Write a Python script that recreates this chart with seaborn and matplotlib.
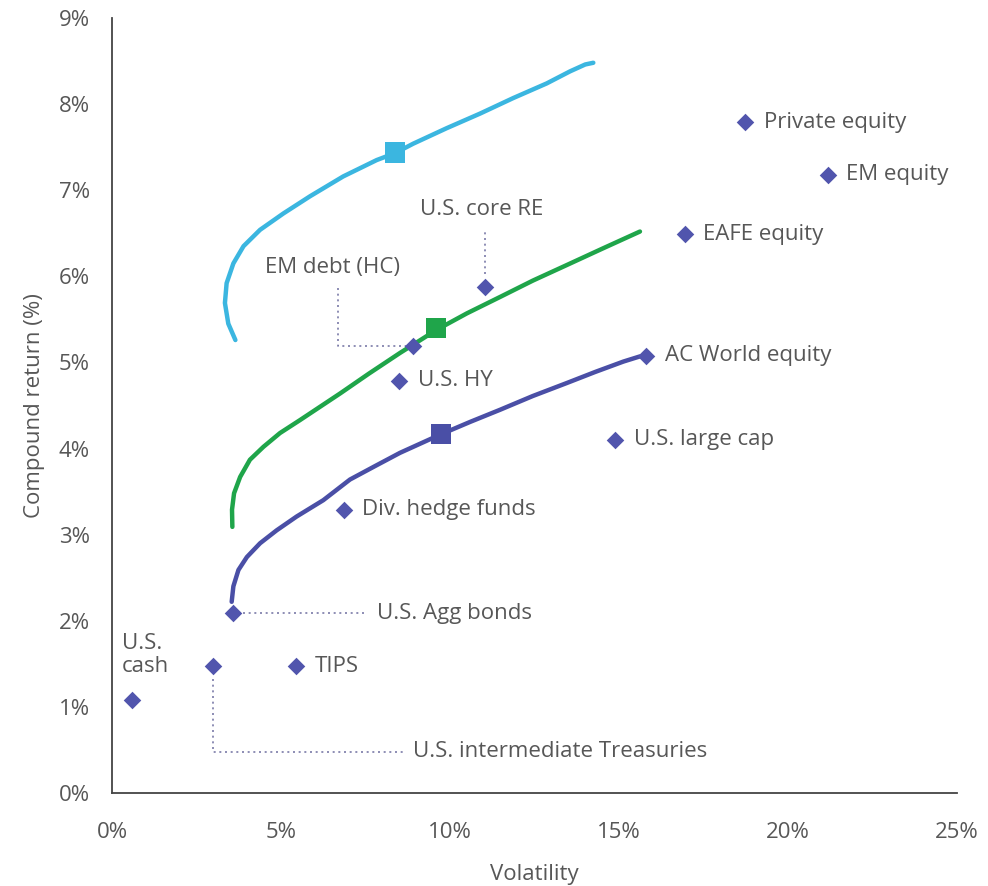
import pandas as pd
import matplotlib.pyplot as plt
import seaborn as sns

sns.set_style("white")
plt.rcParams['font.family'] = ['Open Sans', 'DejaVu Sans']

# asset classes (volatility %, compound return %)
assets = ['Private equity', 'EM equity', 'EAFE equity', 'U.S. core RE', 'EM debt (HC)',
          'U.S. HY', 'AC World equity', 'U.S. large cap', 'Div. hedge funds',
          'U.S. Agg bonds', 'TIPS', 'U.S. intermediate Treasuries', 'U.S. cash']
asset_vol = [18.73, 21.18, 16.95, 11.04, 8.90, 8.49, 15.80, 14.88, 6.86, 3.58, 5.44, 2.99, 0.59]
asset_ret = [7.79, 7.18, 6.49, 5.88, 5.19, 4.79, 5.08, 4.10, 3.29, 2.09, 1.47, 1.47, 1.08]

# frontier curves
cyan_vol = [3.65, 3.44, 3.34, 3.39, 3.59, 3.89, 4.38, 5.07, 5.86, 6.84, 7.83, 8.37,
            8.91, 9.90, 10.89, 11.87, 12.86, 13.55, 14.00, 14.24]
cyan_ret = [5.26, 5.45, 5.69, 5.92, 6.15, 6.35, 6.54, 6.73, 6.93, 7.16, 7.35, 7.43,
            7.54, 7.72, 7.89, 8.07, 8.24, 8.38, 8.46, 8.48]
green_vol = [3.56, 3.55, 3.61, 3.79, 4.08, 4.48, 4.97, 5.56, 6.75, 7.60, 8.52, 9.61,
             10.50, 11.48, 12.45, 13.45, 14.50, 15.62]
green_ret = [3.09, 3.29, 3.48, 3.67, 3.87, 4.02, 4.18, 4.33, 4.64, 4.87, 5.11, 5.38,
             5.57, 5.76, 5.95, 6.13, 6.32, 6.52]
blue_vol = [3.54, 3.59, 3.74, 3.99, 4.38, 4.87, 5.46, 6.25, 7.04, 7.80, 8.52, 9.70,
            10.60, 11.48, 12.45, 13.45, 14.30, 15.13, 15.62]
blue_ret = [2.22, 2.40, 2.59, 2.74, 2.90, 3.05, 3.21, 3.40, 3.64, 3.80, 3.95, 4.16,
            4.31, 4.45, 4.61, 4.76, 4.89, 5.01, 5.07]

# highlighted portfolios (squares)
sq_vol = [8.37, 9.59, 9.73]
sq_ret = [7.44, 5.40, 4.17]

c_cyan = '#3bb6e0'
c_green = '#1fa54a'
c_blue = '#4a4fa6'
c_dia = '#5155ad'
c_text = '#575757'

fig = plt.figure(figsize=(9.88, 8.86), dpi=100)
ax = fig.add_axes([0.1134, 0.105, 0.8552, 0.8747])

for v, r, c in [(cyan_vol, cyan_ret, c_cyan), (green_vol, green_ret, c_green), (blue_vol, blue_ret, c_blue)]:
    d = pd.DataFrame({'vol': v, 'ret': r})
    sns.lineplot(data=d, x='vol', y='ret', sort=False, color=c, linewidth=3.2, ax=ax, zorder=2,
                 solid_joinstyle='round', solid_capstyle='round')

sq = pd.DataFrame({'vol': sq_vol, 'ret': sq_ret, 'c': ['a', 'b', 'c']})
sns.scatterplot(data=sq, x='vol', y='ret', hue='c', palette=[c_cyan, c_green, c_blue],
                marker='s', s=220, linewidth=0, legend=False, ax=ax, zorder=4)

pts = pd.DataFrame({'vol': asset_vol, 'ret': asset_ret})
sns.scatterplot(data=pts, x='vol', y='ret', marker='D', s=80, color=c_dia,
                linewidth=0, legend=False, ax=ax, zorder=5)

# labels to the right of points
fs = 16
for name in ['Private equity', 'EM equity', 'EAFE equity', 'U.S. HY', 'AC World equity',
             'U.S. large cap', 'Div. hedge funds', 'TIPS']:
    i = assets.index(name)
    ax.text(asset_vol[i] + 0.55, asset_ret[i], name, fontsize=fs, color=c_text,
            va='center', ha='left')

# leader lines
dot = dict(color='#7a7aa8', linestyle=(0, (1.2, 2.2)), linewidth=1.2, zorder=1)
i = assets.index('U.S. core RE')
ax.plot([asset_vol[i], asset_vol[i]], [asset_ret[i] + 0.15, 6.55], **dot)
ax.text(asset_vol[i] - 0.1, 6.78, 'U.S. core RE', fontsize=fs, color=c_text, ha='center', va='center')

i = assets.index('EM debt (HC)')
ax.plot([6.69, 6.69, asset_vol[i] - 0.2], [5.87, asset_ret[i], asset_ret[i]], **dot)
ax.text(6.51, 6.10, 'EM debt (HC)', fontsize=fs, color=c_text, ha='center', va='center')

i = assets.index('U.S. Agg bonds')
ax.plot([asset_vol[i] + 0.3, 7.5], [asset_ret[i], asset_ret[i]], **dot)
ax.text(7.84, asset_ret[i], 'U.S. Agg bonds', fontsize=fs, color=c_text, ha='left', va='center')

i = assets.index('U.S. intermediate Treasuries')
ax.plot([asset_vol[i], asset_vol[i], 8.6], [asset_ret[i] - 0.15, 0.48, 0.48], **dot)
ax.text(8.9, 0.48, 'U.S. intermediate Treasuries', fontsize=fs, color=c_text, ha='left', va='center')

i = assets.index('U.S. cash')
ax.text(0.3, asset_ret[i] + 0.27, 'U.S.\ncash', fontsize=fs, color=c_text, ha='left', va='bottom',
        linespacing=1.1)

ax.set_xlim(0, 25)
ax.set_ylim(0, 9)
ax.set_xticks([0, 5, 10, 15, 20, 25])
ax.set_xticklabels(['0%', '5%', '10%', '15%', '20%', '25%'])
ax.set_yticks(range(10))
ax.set_yticklabels([f'{k}%' for k in range(10)])
ax.tick_params(axis='both', direction='out', length=7, width=1.2, color='#444444',
               labelsize=16, labelcolor=c_text, pad=9)
ax.tick_params(axis='x', pad=14)
sns.despine(ax=ax)
for s in ['left', 'bottom']:
    ax.spines[s].set_color('#444444')
    ax.spines[s].set_linewidth(1.3)

ax.set_xlabel('Volatility', fontsize=16, color=c_text, labelpad=15)
ax.set_ylabel('Compound return (%)', fontsize=16, color=c_text, labelpad=10)

fig.savefig('out.png', dpi=100)
